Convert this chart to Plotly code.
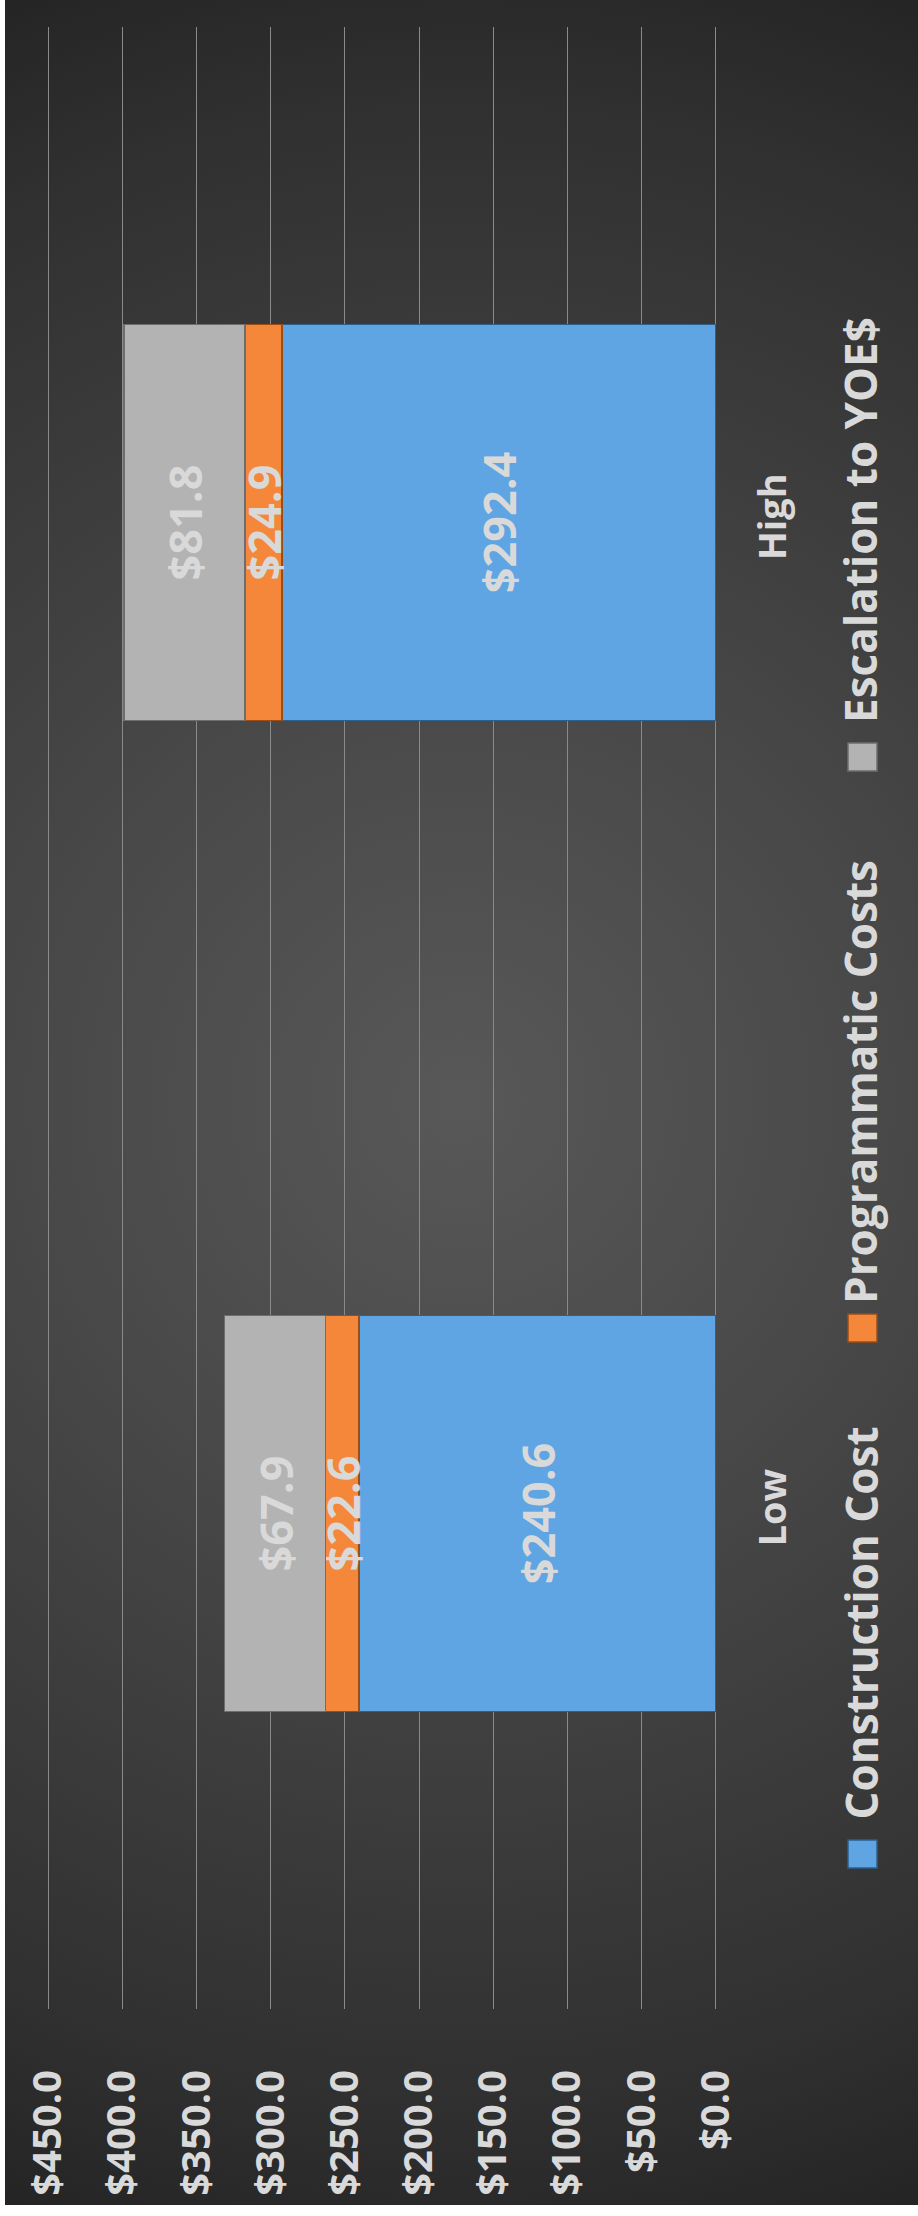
import base64
import plotly.graph_objects as go

# ---------------- data ----------------
categories = ["Low", "High"]
construction_cost = [240.6, 292.4]
programmatic_costs = [22.6, 24.9]
escalation_yoe = [67.9, 81.8]
series_names = ["Construction Cost", "Programmatic Costs", "Escalation to YOE$"]
tick_values = [0, 50, 100, 150, 200, 250, 300, 350, 400, 450]
tick_labels = ["$0.0", "$50.0", "$100.0", "$150.0", "$200.0", "$250.0",
               "$300.0", "$350.0", "$400.0", "$450.0"]

# ---------------- geometry (pixels) ----------------
W, H = 918, 2216
PL, PR, PT, PB = 47, 717, 27, 2009   # plot area edges
PW, PH = PR - PL, PB - PT


def px(x):
    return (x - PL) / PW


def py(y):
    return (PB - y) / PH


colors = ["#5FA5E4", "#F5873A", "#B3B3B3"]
edge_colors = ["#2E5F8E", "#9A4E15", "#6E6E6E"]
label_color = "#D9D9D9"
FONT = "Open Sans"

fig = go.Figure()
for name, vals, col, ecol in zip(series_names,
                                 [construction_cost, programmatic_costs, escalation_yoe],
                                 colors, edge_colors):
    fig.add_trace(go.Bar(
        name=name, y=categories, x=vals, orientation="h",
        marker=dict(color=col, line=dict(color=ecol, width=1.5)),
        texttemplate="$%{x:.1f}", textposition="inside",
        insidetextanchor="middle", textangle=-90,
        textfont=dict(family=FONT, size=45, color=label_color, weight="bold"),
        constraintext="none", cliponaxis=False,
        hoverinfo="skip",
    ))

# background radial gradient as an svg image
svg = (
    '<svg xmlns="http://www.w3.org/2000/svg" width="913" height="2205" '
    'viewBox="0 0 913 2205" preserveAspectRatio="none">'
    '<defs><radialGradient id="g" gradientUnits="userSpaceOnUse" cx="455" cy="1100" r="1250">'
    '<stop offset="0" stop-color="#585858"/>'
    '<stop offset="0.35" stop-color="#484848"/>'
    '<stop offset="0.8" stop-color="#303030"/>'
    '<stop offset="1" stop-color="#212121"/>'
    '</radialGradient></defs>'
    '<rect width="913" height="2205" fill="url(#g)"/></svg>'
)
src = "data:image/svg+xml;base64," + base64.b64encode(svg.encode()).decode()

images = [dict(source=src, xref="paper", yref="paper",
               x=px(5), y=py(0), sizex=913 / PW, sizey=2205 / PH,
               xanchor="left", yanchor="top", sizing="stretch", layer="below")]

# legend (rotated) built from annotations + marker squares
legend_text_bottom = [1822, 1306, 725]
legend_marker_center = [1854, 1328, 757]
annotations = []
shapes = []
for name, col, ecol, tb, mc in zip(series_names, colors, edge_colors,
                                   legend_text_bottom, legend_marker_center):
    annotations.append(dict(
        text=name, textangle=-90, xref="paper", yref="paper",
        x=px(860), y=py(tb), xanchor="center", yanchor="bottom",
        showarrow=False,
        font=dict(family=FONT, size=44, color=label_color, weight="bold"),
    ))
    shapes.append(dict(
        type="rect", xref="paper", yref="paper",
        x0=px(848), x1=px(877), y0=py(mc - 14), y1=py(mc + 14),
        fillcolor=col, line=dict(color=ecol, width=1.5), layer="above",
    ))

fig.update_layout(
    width=W, height=H,
    margin=dict(l=PL, r=W - PR, t=PT, b=H - PB, pad=0),
    barmode="stack", bargap=0.6,
    showlegend=False,
    paper_bgcolor="#FFFFFF",
    plot_bgcolor="rgba(0,0,0,0)",
    images=images,
    annotations=annotations,
    shapes=shapes,
    xaxis=dict(
        range=[450.9, -0.9], tickmode="array", tickvals=tick_values, ticktext=tick_labels,
        tickangle=-90, showgrid=True, gridcolor="#8A8A8A", gridwidth=1,
        zeroline=False, showline=False, automargin=False,
        ticks="outside", ticklen=44, tickcolor="rgba(0,0,0,0)",
        tickfont=dict(family=FONT, size=40, color=label_color, weight="bold"),
        fixedrange=True,
    ),
    yaxis=dict(
        side="right", tickangle=-90, showgrid=False, zeroline=False, showline=False,
        automargin=False,
        ticks="outside", ticklen=22, tickcolor="rgba(0,0,0,0)",
        tickfont=dict(family=FONT, size=38, color=label_color, weight="bold"),
        fixedrange=True,
    ),
)

fig.write_html(
    "out.html",
    config={"displayModeBar": False},
    post_script="document.body.style.margin='0';document.body.style.overflow='hidden';",
)
